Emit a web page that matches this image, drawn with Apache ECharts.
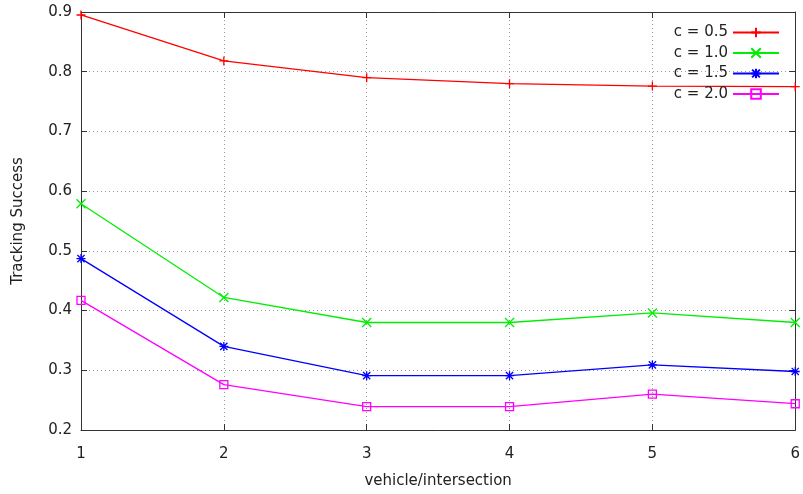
<!DOCTYPE html>
<html><head><meta charset="utf-8">
<script src="https://cdn.jsdelivr.net/npm/echarts@6/dist/echarts.min.js"></script>
<style>html,body{margin:0;padding:0;background:#fff}#c{width:803px;height:494px}</style>
</head><body><div id="c"></div>
<script>
const categories = ['1','2','3','4','5','6'];
const seriesNames = ['c = 0.5','c = 1.0','c = 1.5','c = 2.0'];
const c05 = [0.895, 0.818, 0.790, 0.780, 0.776, 0.775];
const c10 = [0.579, 0.422, 0.380, 0.380, 0.396, 0.380];
const c15 = [0.487, 0.340, 0.291, 0.291, 0.309, 0.298];
const c20 = [0.417, 0.276, 0.239, 0.239, 0.260, 0.244];
const yTicks = [0.2, 0.3, 0.4, 0.5, 0.6, 0.7, 0.8, 0.9];

const colors = ['#ff0000', '#00ee00', '#0000ff', '#ff00ff'];
const symbols = [
  'path://M0,5L10,5M5,0L5,10',
  'path://M0,0L10,10M10,0L0,10',
  'path://M0,5L10,5M5,0L5,10M1,1L9,9M9,1L1,9',
  'path://M0,0L10,0L10,10L0,10Z'
];
const datas = [c05, c10, c15, c20];
const font = 'Tahoma, "DejaVu Sans", sans-serif';

const chart = echarts.init(document.getElementById('c'), null, {renderer: 'canvas'});
const series = datas.map((d, i) => ({
  name: seriesNames[i],
  type: 'line',
  data: d,
  symbol: symbols[i],
  symbolSize: i === 3 ? 8 : 9,
  showAllSymbol: true,
  lineStyle: {color: colors[i], width: 1.3},
  itemStyle: {color: i === 3 ? 'rgba(0,0,0,0)' : colors[i], borderColor: colors[i], borderWidth: 1.3},
  emphasis: {disabled: true},
  animation: false
}));

chart.setOption({
  animation: false,
  grid: {left: 81, right: 6, top: 12, bottom: 63},
  legend: {
    orient: 'vertical',
    right: 18, top: 20,
    align: 'right',
    itemWidth: 46, itemHeight: 12,
    itemGap: 5.5,
    textStyle: {fontFamily: font, fontSize: 15, color: '#222'},
    data: seriesNames
  },
  xAxis: [{
    type: 'category', data: categories, boundaryGap: false,
    name: 'vehicle/intersection', nameLocation: 'middle', nameGap: 44,
    nameTextStyle: {fontFamily: font, fontSize: 15, color: '#222'},
    axisLine: {lineStyle: {color: '#333', width: 1}},
    axisTick: {inside: true, length: 6, lineStyle: {color: '#333'}},
    axisLabel: {fontFamily: font, fontSize: 15, color: '#222', margin: 17},
    splitLine: {show: true, lineStyle: {color: '#999', type: [1, 3], width: 1}}
  }, {
    type: 'category', data: categories, boundaryGap: false, position: 'top',
    axisLine: {lineStyle: {color: '#333', width: 1}},
    axisTick: {inside: true, length: 6, lineStyle: {color: '#333'}},
    axisLabel: {show: false}, splitLine: {show: false}
  }],
  yAxis: [{
    type: 'value', min: 0.2, max: 0.9, interval: 0.1,
    name: 'Tracking Success', nameLocation: 'middle', nameGap: 55,
    nameTextStyle: {fontFamily: font, fontSize: 15, color: '#222'},
    axisLine: {show: true, lineStyle: {color: '#333', width: 1}},
    axisTick: {show: true, inside: true, length: 6, lineStyle: {color: '#333'}},
    axisLabel: {fontFamily: font, fontSize: 15, color: '#222', margin: 9,
      formatter: v => { const t = yTicks.find(x => Math.abs(x - v) < 1e-6); return t !== undefined ? t.toFixed(1) : ''; }},
    splitLine: {show: true, lineStyle: {color: '#999', type: [1, 3], width: 1}}
  }, {
    type: 'value', min: 0.2, max: 0.9, interval: 0.1, position: 'right',
    axisLine: {show: true, lineStyle: {color: '#333', width: 1}},
    axisTick: {show: true, inside: true, length: 6, lineStyle: {color: '#333'}},
    axisLabel: {show: false}, splitLine: {show: false}
  }],
  series: series
});
</script></body></html>
